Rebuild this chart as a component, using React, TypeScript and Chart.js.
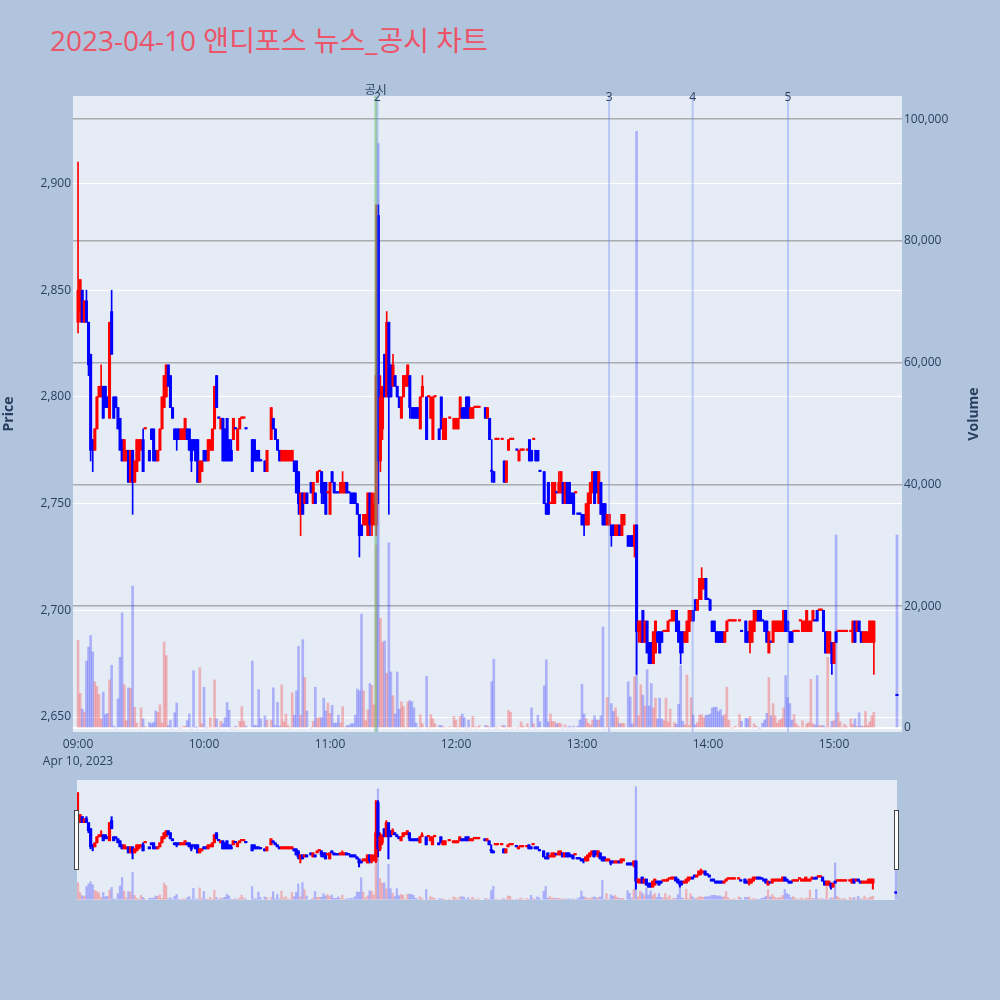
import React, { useEffect, useRef } from 'react';
import { Chart, registerables } from 'chart.js';

Chart.register(...registerables);

const FONT = '"Open Sans", "Noto Sans CJK KR", "DejaVu Sans", sans-serif';
const INK = '#2a3f5f';

// minutes after 09:00 (one candle per traded minute)
const minutes = [
  0, 1, 2, 3, 4, 5, 6, 7, 8, 9,
  10, 11, 12, 13, 14, 15, 16, 17, 18, 19,
  20, 21, 22, 23, 24, 25, 26, 27, 28, 29,
  30, 31, 32, 34, 35, 36, 37, 38, 39, 40,
  41, 42, 43, 44, 45, 46, 47, 48, 49, 50,
  51, 52, 53, 54, 55, 56, 57, 58, 59, 60,
  61, 62, 63, 64, 65, 66, 67, 68, 69, 70,
  71, 72, 73, 74, 75, 76, 77, 78, 79, 80,
  83, 84, 85, 86, 87, 89, 90, 92, 93, 94,
  95, 96, 97, 98, 99, 100, 101, 102, 103, 104,
  105, 106, 107, 108, 109, 111, 112, 113, 114, 115,
  116, 117, 118, 119, 120, 121, 122, 123, 124, 125,
  126, 127, 128, 129, 130, 131, 132, 133, 134, 135,
  136, 137, 138, 139, 140, 141, 142, 143, 144, 145,
  146, 147, 148, 149, 150, 151, 152, 153, 154, 155,
  156, 157, 158, 159, 160, 161, 162, 163, 164, 166,
  167, 168, 169, 170, 172, 173, 174, 175, 177, 179,
  180, 181, 182, 183, 184, 185, 186, 187, 188, 189,
  190, 191, 194, 195, 196, 197, 198, 199, 200, 202,
  203, 204, 205, 206, 207, 209, 210, 211, 212, 214,
  215, 216, 217, 218, 219, 220, 222, 223, 224, 225,
  226, 227, 228, 229, 230, 231, 232, 233, 234, 235,
  236, 237, 238, 239, 240, 241, 242, 243, 244, 245,
  246, 247, 248, 249, 250, 251, 252, 253, 254, 255,
  256, 257, 258, 259, 260, 262, 263, 264, 265, 266,
  267, 268, 269, 270, 271, 272, 273, 274, 275, 276,
  277, 278, 279, 280, 281, 282, 283, 284, 285, 286,
  287, 288, 289, 290, 291, 292, 293, 294, 295, 296,
  297, 298, 299, 300, 301, 302, 303, 304, 305, 306,
  307, 308, 309, 310, 311, 312, 313, 315, 316, 318,
  319, 320, 321, 322, 323, 324, 325, 326, 327, 328,
  329, 330, 331, 332, 333, 334, 335, 336, 337, 338,
  339, 340, 341, 342, 343, 344, 345, 346, 347, 348,
  349, 350, 351, 352, 353, 354, 355, 356, 357, 358,
  359, 360, 361, 362, 363, 364, 365, 366, 368, 369,
  370, 371, 372, 373, 374, 375, 376, 377, 378, 379,
  390,
];

const opens = [
  2835, 2840, 2850, 2835, 2845, 2835, 2820, 2780, 2775, 2785,
  2800, 2800, 2805, 2805, 2800, 2790, 2840, 2800, 2800, 2795,
  2790, 2780, 2770, 2770, 2775, 2760, 2775, 2760, 2765, 2770,
  2775, 2780, 2785, 2775, 2785, 2785, 2775, 2770, 2775, 2785,
  2795, 2800, 2815, 2810, 2795, 2785, 2785, 2785, 2780, 2780,
  2780, 2785, 2785, 2780, 2780, 2780, 2780, 2760, 2765, 2775,
  2775, 2770, 2775, 2775, 2785, 2810, 2790, 2785, 2790, 2785,
  2790, 2780, 2775, 2780, 2785, 2775, 2785, 2790, 2790, 2785,
  2780, 2780, 2775, 2775, 2770, 2770, 2765, 2780, 2790, 2785,
  2780, 2775, 2770, 2770, 2770, 2770, 2770, 2770, 2770, 2770,
  2765, 2745, 2755, 2750, 2755, 2760, 2750, 2755, 2760, 2765,
  2765, 2760, 2760, 2755, 2745, 2765, 2760, 2755, 2755, 2755,
  2755, 2755, 2760, 2755, 2755, 2755, 2755, 2750, 2745, 2740,
  2740, 2740, 2735, 2755, 2740, 2740, 2740, 2885, 2770, 2785,
  2820, 2800, 2835, 2815, 2805, 2810, 2805, 2800, 2790, 2800,
  2805, 2805, 2810, 2795, 2795, 2795, 2795, 2785, 2800, 2800,
  2800, 2790, 2780, 2800, 2785, 2800, 2780, 2780, 2790, 2785,
  2785, 2785, 2790, 2795, 2795, 2800, 2800, 2790, 2790, 2795,
  2795, 2795, 2795, 2790, 2790, 2765, 2765, 2780, 2780, 2780,
  2770, 2760, 2775, 2780, 2780, 2775, 2770, 2775, 2775, 2775,
  2780, 2775, 2780, 2775, 2775, 2765, 2765, 2750, 2760, 2750,
  2750, 2750, 2755, 2755, 2755, 2760, 2750, 2760, 2760, 2755,
  2755, 2755, 2745, 2745, 2745, 2745, 2740, 2740, 2750, 2755,
  2765, 2765, 2750, 2760, 2750, 2750, 2740, 2740, 2740, 2740,
  2735, 2735, 2740, 2735, 2740, 2735, 2735, 2735, 2730, 2740,
  2690, 2685, 2700, 2685, 2695, 2685, 2685, 2675, 2680, 2690,
  2690, 2690, 2690, 2690, 2690, 2695, 2695, 2695, 2700, 2695,
  2690, 2690, 2685, 2685, 2690, 2695, 2700, 2705, 2700, 2705,
  2710, 2710, 2715, 2705, 2705, 2695, 2695, 2690, 2690, 2690,
  2690, 2685, 2690, 2695, 2695, 2695, 2695, 2695, 2690, 2695,
  2690, 2685, 2685, 2690, 2695, 2700, 2700, 2695, 2695, 2695,
  2680, 2685, 2685, 2690, 2690, 2690, 2690, 2690, 2700, 2695,
  2690, 2690, 2690, 2690, 2690, 2695, 2690, 2690, 2690, 2690,
  2690, 2695, 2695, 2700, 2700, 2700, 2700, 2690, 2680, 2680,
  2685, 2675, 2690, 2690, 2690, 2690, 2690, 2690, 2690, 2685,
  2695, 2690, 2695, 2690, 2685, 2685, 2685, 2685, 2685, 2685,
  2660,
];

const highs = [
  2910, 2855, 2850, 2845, 2850, 2835, 2820, 2780, 2785, 2800,
  2805, 2815, 2805, 2805, 2800, 2835, 2850, 2800, 2800, 2795,
  2790, 2780, 2780, 2775, 2775, 2775, 2775, 2770, 2780, 2780,
  2780, 2785, 2785, 2775, 2785, 2785, 2775, 2775, 2785, 2800,
  2810, 2815, 2815, 2810, 2795, 2785, 2785, 2785, 2785, 2785,
  2790, 2785, 2785, 2780, 2780, 2780, 2780, 2770, 2770, 2775,
  2775, 2780, 2780, 2785, 2805, 2810, 2790, 2790, 2790, 2785,
  2790, 2780, 2780, 2790, 2785, 2785, 2790, 2790, 2790, 2785,
  2780, 2780, 2775, 2775, 2770, 2770, 2775, 2795, 2790, 2785,
  2780, 2775, 2775, 2775, 2775, 2775, 2775, 2775, 2770, 2770,
  2765, 2755, 2755, 2755, 2755, 2760, 2760, 2755, 2765, 2765,
  2765, 2760, 2760, 2755, 2760, 2765, 2760, 2755, 2755, 2760,
  2765, 2760, 2760, 2755, 2755, 2755, 2755, 2750, 2745, 2740,
  2745, 2745, 2755, 2755, 2755, 2755, 2890, 2890, 2810, 2805,
  2820, 2840, 2835, 2815, 2820, 2810, 2805, 2800, 2800, 2810,
  2810, 2815, 2810, 2795, 2795, 2795, 2795, 2800, 2810, 2800,
  2800, 2800, 2800, 2800, 2785, 2800, 2790, 2790, 2790, 2790,
  2790, 2790, 2800, 2795, 2795, 2800, 2800, 2795, 2795, 2795,
  2795, 2795, 2795, 2795, 2790, 2780, 2765, 2780, 2780, 2780,
  2770, 2770, 2780, 2780, 2780, 2775, 2775, 2775, 2775, 2775,
  2780, 2775, 2780, 2775, 2775, 2765, 2765, 2750, 2760, 2750,
  2760, 2760, 2755, 2765, 2765, 2760, 2760, 2760, 2760, 2755,
  2755, 2755, 2745, 2745, 2745, 2745, 2750, 2755, 2760, 2765,
  2765, 2765, 2765, 2760, 2750, 2750, 2745, 2745, 2740, 2740,
  2740, 2740, 2740, 2745, 2745, 2735, 2735, 2735, 2740, 2740,
  2695, 2695, 2700, 2695, 2695, 2685, 2685, 2690, 2695, 2690,
  2690, 2690, 2690, 2690, 2695, 2695, 2700, 2700, 2700, 2695,
  2690, 2690, 2690, 2695, 2700, 2700, 2700, 2705, 2705, 2715,
  2720, 2715, 2715, 2705, 2705, 2695, 2695, 2690, 2690, 2690,
  2690, 2690, 2695, 2695, 2695, 2695, 2695, 2695, 2690, 2695,
  2690, 2695, 2695, 2700, 2700, 2700, 2700, 2695, 2695, 2695,
  2690, 2685, 2695, 2695, 2695, 2695, 2695, 2700, 2700, 2695,
  2690, 2690, 2690, 2690, 2690, 2695, 2695, 2695, 2700, 2695,
  2695, 2700, 2695, 2700, 2700, 2700, 2700, 2690, 2690, 2690,
  2685, 2685, 2690, 2690, 2690, 2690, 2690, 2690, 2690, 2695,
  2695, 2695, 2695, 2690, 2690, 2690, 2690, 2695, 2695, 2695,
  2660,
];

const lows = [
  2830, 2835, 2835, 2835, 2835, 2810, 2770, 2765, 2775, 2785,
  2800, 2800, 2790, 2795, 2795, 2790, 2820, 2790, 2795, 2785,
  2775, 2770, 2770, 2770, 2760, 2760, 2745, 2760, 2765, 2770,
  2775, 2765, 2785, 2770, 2780, 2770, 2770, 2770, 2775, 2785,
  2795, 2800, 2805, 2795, 2790, 2780, 2775, 2780, 2780, 2780,
  2780, 2780, 2775, 2765, 2775, 2770, 2760, 2760, 2765, 2770,
  2770, 2770, 2775, 2775, 2785, 2795, 2790, 2785, 2770, 2770,
  2770, 2770, 2770, 2780, 2785, 2775, 2785, 2790, 2790, 2785,
  2765, 2770, 2770, 2770, 2770, 2765, 2765, 2780, 2785, 2780,
  2775, 2770, 2770, 2770, 2770, 2770, 2770, 2770, 2765, 2755,
  2745, 2735, 2745, 2750, 2750, 2755, 2750, 2750, 2760, 2765,
  2750, 2750, 2745, 2755, 2745, 2760, 2755, 2755, 2755, 2755,
  2755, 2755, 2755, 2755, 2750, 2750, 2750, 2745, 2725, 2735,
  2740, 2740, 2735, 2735, 2735, 2740, 2735, 2750, 2765, 2780,
  2800, 2800, 2745, 2800, 2805, 2805, 2800, 2795, 2790, 2800,
  2805, 2805, 2790, 2790, 2790, 2790, 2790, 2785, 2800, 2780,
  2800, 2790, 2780, 2800, 2780, 2785, 2780, 2780, 2790, 2785,
  2785, 2785, 2790, 2790, 2790, 2790, 2790, 2790, 2790, 2795,
  2795, 2795, 2790, 2790, 2780, 2760, 2760, 2780, 2780, 2780,
  2760, 2760, 2775, 2780, 2780, 2775, 2770, 2775, 2775, 2775,
  2770, 2770, 2780, 2770, 2770, 2765, 2750, 2745, 2745, 2750,
  2750, 2750, 2755, 2755, 2755, 2750, 2750, 2750, 2750, 2750,
  2745, 2755, 2745, 2745, 2740, 2735, 2740, 2740, 2750, 2755,
  2750, 2755, 2750, 2745, 2740, 2740, 2740, 2740, 2730, 2735,
  2735, 2735, 2735, 2735, 2740, 2730, 2730, 2730, 2725, 2670,
  2685, 2685, 2685, 2685, 2680, 2675, 2675, 2675, 2680, 2685,
  2680, 2685, 2690, 2690, 2690, 2695, 2695, 2695, 2690, 2685,
  2675, 2680, 2685, 2685, 2690, 2695, 2695, 2700, 2700, 2705,
  2705, 2710, 2705, 2705, 2700, 2690, 2690, 2685, 2685, 2685,
  2685, 2685, 2690, 2695, 2695, 2695, 2695, 2695, 2690, 2685,
  2685, 2680, 2685, 2690, 2695, 2695, 2695, 2695, 2690, 2685,
  2680, 2685, 2685, 2690, 2690, 2690, 2690, 2690, 2690, 2690,
  2685, 2685, 2690, 2690, 2690, 2695, 2690, 2690, 2690, 2690,
  2690, 2695, 2695, 2695, 2700, 2700, 2690, 2680, 2680, 2680,
  2670, 2675, 2685, 2690, 2690, 2690, 2690, 2690, 2690, 2685,
  2685, 2690, 2690, 2685, 2685, 2685, 2685, 2685, 2685, 2670,
  2660,
];

const closes = [
  2850, 2855, 2835, 2845, 2835, 2815, 2775, 2775, 2785, 2800,
  2805, 2805, 2790, 2795, 2795, 2835, 2820, 2790, 2795, 2785,
  2775, 2770, 2780, 2775, 2760, 2775, 2760, 2770, 2780, 2780,
  2780, 2765, 2785, 2770, 2780, 2770, 2770, 2775, 2785, 2800,
  2810, 2815, 2805, 2795, 2790, 2780, 2780, 2780, 2785, 2785,
  2790, 2780, 2775, 2770, 2775, 2770, 2760, 2770, 2770, 2770,
  2770, 2780, 2780, 2785, 2805, 2795, 2790, 2790, 2770, 2770,
  2770, 2770, 2770, 2790, 2785, 2785, 2790, 2790, 2790, 2785,
  2765, 2770, 2770, 2770, 2770, 2765, 2775, 2795, 2785, 2780,
  2775, 2770, 2775, 2775, 2775, 2775, 2775, 2775, 2765, 2755,
  2750, 2755, 2745, 2755, 2750, 2755, 2760, 2750, 2765, 2765,
  2755, 2750, 2745, 2755, 2760, 2760, 2755, 2755, 2755, 2760,
  2760, 2760, 2755, 2755, 2750, 2750, 2750, 2745, 2735, 2735,
  2745, 2745, 2755, 2740, 2755, 2750, 2810, 2770, 2800, 2805,
  2800, 2835, 2800, 2800, 2815, 2805, 2800, 2795, 2800, 2810,
  2810, 2815, 2795, 2790, 2790, 2790, 2790, 2800, 2805, 2780,
  2800, 2800, 2800, 2800, 2780, 2785, 2790, 2790, 2790, 2790,
  2790, 2790, 2800, 2790, 2790, 2790, 2790, 2795, 2795, 2795,
  2795, 2795, 2790, 2795, 2780, 2765, 2760, 2780, 2780, 2780,
  2760, 2770, 2780, 2780, 2780, 2775, 2775, 2775, 2775, 2775,
  2770, 2770, 2780, 2770, 2770, 2765, 2750, 2745, 2745, 2750,
  2760, 2760, 2755, 2760, 2765, 2750, 2760, 2750, 2750, 2750,
  2745, 2755, 2745, 2745, 2740, 2740, 2750, 2755, 2760, 2765,
  2750, 2755, 2765, 2745, 2740, 2740, 2745, 2745, 2735, 2735,
  2740, 2740, 2735, 2745, 2745, 2730, 2730, 2730, 2740, 2690,
  2695, 2695, 2685, 2695, 2680, 2675, 2675, 2690, 2695, 2685,
  2680, 2685, 2690, 2690, 2695, 2695, 2700, 2700, 2690, 2685,
  2680, 2685, 2690, 2695, 2700, 2700, 2695, 2700, 2705, 2715,
  2715, 2715, 2705, 2705, 2700, 2690, 2690, 2685, 2685, 2685,
  2685, 2690, 2695, 2695, 2695, 2695, 2695, 2695, 2690, 2685,
  2685, 2695, 2695, 2700, 2700, 2695, 2695, 2695, 2690, 2685,
  2690, 2685, 2695, 2695, 2695, 2695, 2695, 2700, 2690, 2690,
  2685, 2685, 2690, 2690, 2690, 2695, 2695, 2695, 2700, 2695,
  2695, 2700, 2695, 2695, 2700, 2700, 2690, 2680, 2690, 2690,
  2675, 2685, 2685, 2690, 2690, 2690, 2690, 2690, 2690, 2695,
  2685, 2695, 2690, 2685, 2690, 2690, 2690, 2695, 2695, 2695,
  2660,
];

const volumes = [
  14400, 5700, 3100, 2600, 11000, 13300, 15200, 12500, 7600, 6800,
  5500, 1500, 5900, 2200, 2400, 7900, 10300, 300, 0, 4800,
  11600, 18900, 7100, 1200, 6600, 6500, 23300, 3400, 800, 0,
  3300, 1500, 200, 900, 700, 900, 2800, 2600, 3800, 800,
  14100, 11900, 400, 1300, 0, 2500, 4100, 0, 0, 200,
  300, 1200, 2300, 0, 9400, 100, 0, 9900, 700, 6700,
  0, 0, 1700, 0, 7900, 1500, 0, 1100, 700, 1700,
  4200, 2900, 0, 0, 300, 0, 1100, 3500, 1100, 300,
  11000, 400, 400, 6300, 1500, 2000, 1300, 1300, 6600, 400,
  4200, 300, 7100, 1000, 2300, 400, 0, 5800, 2100, 6100,
  13400, 2100, 14500, 8300, 2800, 0, 1100, 6700, 1600, 1700,
  1700, 4900, 2800, 4100, 2400, 3700, 800, 800, 2100, 800,
  3500, 0, 400, 400, 700, 700, 2100, 6400, 6100, 18700,
  6100, 1200, 3000, 7300, 7000, 3800, 30000, 96000, 18000, 14100,
  14300, 9000, 30400, 9200, 5300, 2300, 9200, 3100, 4300, 3500,
  0, 4300, 4500, 4300, 3300, 800, 0, 2200, 700, 8500,
  0, 2200, 1500, 700, 400, 400, 200, 0, 200, 1900,
  1300, 0, 1900, 2300, 1700, 0, 1300, 0, 1900, 200,
  0, 400, 400, 400, 0, 7600, 11300, 0, 0, 400,
  400, 0, 2900, 2600, 0, 0, 0, 1000, 300, 700,
  0, 3300, 700, 0, 2100, 1000, 6900, 11200, 1000, 2300,
  1100, 1000, 700, 800, 700, 0, 500, 0, 300, 0,
  300, 0, 300, 1300, 7200, 2300, 1500, 800, 500, 1300,
  2000, 1300, 1300, 2000, 16600, 0, 5000, 0, 4000, 2700,
  3300, 1800, 700, 800, 700, 7600, 5100, 700, 8400, 98000,
  2000, 7100, 5400, 3600, 9600, 3600, 7300, 3300, 4900, 1500,
  4900, 1500, 1200, 4900, 1000, 3100, 0, 900, 600, 3900,
  10300, 1100, 500, 8700, 400, 5000, 2100, 500, 900, 2100,
  2200, 1700, 2100, 2100, 2300, 3300, 3400, 3400, 2700, 3000,
  2000, 2200, 6700, 1300, 0, 0, 300, 2200, 1100, 1600,
  1500, 1900, 0, 700, 300, 0, 0, 800, 1300, 2400,
  8300, 2000, 4000, 2000, 800, 1300, 1500, 3300, 8600, 5000,
  4000, 1300, 2200, 700, 300, 0, 1200, 0, 700, 900,
  8000, 700, 500, 8600, 400, 400, 400, 0, 11600, 0,
  1100, 1200, 31700, 2500, 1000, 0, 600, 300, 1500, 600,
  1500, 300, 2500, 300, 300, 2700, 400, 1000, 2000, 2600,
  31700,
];

const priceTicks = [2650, 2700, 2750, 2800, 2850, 2900];
const volumeTicks = [0, 20000, 40000, 60000, 80000, 100000];
const hourTicks = [0, 60, 120, 180, 240, 300, 360];
const hourLabels = ['09:00', '10:00', '11:00', '12:00', '13:00', '14:00', '15:00'];
const dateLabel = 'Apr 10, 2023';

const priceRange = [2643, 2941];
const volumeRange = [-660, 103800];
const timeRange = [-2.4, 392.4];
const sliderTimeRange = [-0.5, 390.5];

// vertical markers: disclosure + news items
const eventTimes = [141.8, 142.6, 252.9, 292.7, 338.1];
const eventLabels = ['공시', '2', '3', '4', '5'];

const titleText = '2023-04-10 앤디포스 뉴스_공시 차트';

// plotly-style direction: flat candles follow the previous close
const rising: boolean[] = [];
closes.forEach((c, i) => {
  const o = opens[i];
  if (c > o) rising.push(true);
  else if (c < o) rising.push(false);
  else if (i > 0 && c !== closes[i - 1]) rising.push(c > closes[i - 1]);
  else rising.push(i > 0 ? rising[i - 1] : true);
});

function buildDatasets(body: number, wick: number, vol: number): any[] {
  const colors = rising.map(r => (r ? '#ff0000' : '#0000ff'));
  const volColors = rising.map(r => (r ? 'rgba(255, 0, 0, 0.25)' : 'rgba(0, 0, 255, 0.25)'));
  return [
    {
      label: 'Volume',
      yAxisID: 'y1',
      data: minutes.map((m, i) => ({ x: m, y: volumes[i] })),
      backgroundColor: volColors,
      barThickness: vol,
      grouped: false,
      order: 3,
    },
    {
      label: 'wick',
      yAxisID: 'y',
      data: minutes.map((m, i) => ({ x: m, y: [lows[i], highs[i]] })),
      backgroundColor: colors,
      barThickness: wick,
      grouped: false,
      order: 2,
    },
    {
      label: 'body',
      yAxisID: 'y',
      data: minutes.map((m, i) => ({ x: m, y: [opens[i], closes[i]] })),
      backgroundColor: colors,
      barThickness: body,
      minBarLength: 1.5,
      grouped: false,
      order: 1,
    },
  ];
}

const plotBackground = {
  id: 'plotBackground',
  beforeDraw(chart: any) {
    const { ctx, chartArea } = chart;
    ctx.save();
    ctx.fillStyle = '#e5ecf6';
    ctx.fillRect(chartArea.left, chartArea.top, chartArea.width, chartArea.height);
    ctx.restore();
  },
};

const eventLines = {
  id: 'eventLines',
  afterDatasetsDraw(chart: any) {
    const { ctx, chartArea, scales } = chart;
    eventTimes.forEach((t, i) => {
      const px = scales.x.getPixelForValue(t);
      const notice = eventLabels[i] === '공시';
      ctx.save();
      ctx.strokeStyle = notice ? 'rgba(110, 190, 110, 0.55)' : 'rgba(100, 130, 240, 0.35)';
      ctx.lineWidth = notice ? 3 : 2;
      ctx.beginPath();
      ctx.moveTo(px, chartArea.top);
      ctx.lineTo(px, chartArea.bottom);
      ctx.stroke();
      ctx.fillStyle = INK;
      ctx.font = `12px ${FONT}`;
      ctx.textAlign = 'center';
      ctx.textBaseline = 'alphabetic';
      ctx.fillText(eventLabels[i], px, notice ? chartArea.top - 2 : chartArea.top + 5);
      ctx.restore();
    });
  },
};

const axisTitles = {
  id: 'axisTitles',
  afterDraw(chart: any) {
    const { ctx, chartArea } = chart;
    const cy = (chartArea.top + chartArea.bottom) / 2;
    ctx.save();
    ctx.fillStyle = INK;
    ctx.font = `bold 14px ${FONT}`;
    ctx.textAlign = 'center';
    ctx.textBaseline = 'middle';
    [['Price', 9], ['Volume', 974]].forEach(([text, x]) => {
      ctx.save();
      ctx.translate(x as number, cy);
      ctx.rotate(-Math.PI / 2);
      ctx.fillText(text as string, 0, 0);
      ctx.restore();
    });
    ctx.restore();
  },
};

export default function App() {
  const mainRef = useRef<HTMLCanvasElement>(null);
  const sliderRef = useRef<HTMLCanvasElement>(null);

  useEffect(() => {
    if (!mainRef.current || !sliderRef.current) return;

    const tickFont = { family: FONT, size: 12 };

    const main = new Chart(mainRef.current, {
      type: 'bar',
      data: { datasets: buildDatasets(2.4, 1, 2) },
      options: {
        responsive: false,
        animation: false,
        layout: { padding: { top: 96, left: 0, right: 0, bottom: 0 } },
        plugins: { legend: { display: false }, tooltip: { enabled: false } },
        scales: {
          x: {
            type: 'linear',
            min: timeRange[0],
            max: timeRange[1],
            offset: false,
            grid: { display: false },
            border: { display: false },
            ticks: {
              color: INK,
              font: { ...tickFont, lineHeight: 1.4 },
              padding: -4,
              maxRotation: 0,
              autoSkip: false,
              callback: (v: any) => {
                const i = hourTicks.indexOf(Number(v));
                if (i < 0) return '';
                return i === 0 ? [hourLabels[0], dateLabel] : hourLabels[i];
              },
            },
            afterBuildTicks: (axis: any) => {
              axis.ticks = hourTicks.map(value => ({ value }));
            },
            afterFit: (axis: any) => {
              axis.height = 48;
            },
          },
          y: {
            position: 'left',
            min: priceRange[0],
            max: priceRange[1],
            grid: { color: '#ffffff', lineWidth: 1, drawTicks: false },
            border: { display: false },
            ticks: {
              color: INK,
              font: tickFont,
              padding: 2,
              callback: (v: any) => Number(v).toLocaleString('en-US'),
            },
            afterBuildTicks: (axis: any) => {
              axis.ticks = priceTicks.map(value => ({ value }));
            },
            afterFit: (axis: any) => {
              axis.width = 73;
            },
          },
          y1: {
            position: 'right',
            min: volumeRange[0],
            max: volumeRange[1],
            grid: {
              color: (ctx: any) => (ctx.tick && ctx.tick.value === 0 ? '#ffffff' : 'rgba(128, 128, 128, 0.6)'),
              lineWidth: (ctx: any) => (ctx.tick && ctx.tick.value === 0 ? 2 : 1.5),
              drawTicks: false,
            },
            border: { display: false },
            ticks: {
              color: INK,
              font: tickFont,
              padding: 2,
              callback: (v: any) => Number(v).toLocaleString('en-US'),
            },
            afterBuildTicks: (axis: any) => {
              axis.ticks = volumeTicks.map(value => ({ value }));
            },
            afterFit: (axis: any) => {
              axis.width = 98;
            },
          },
        },
      },
      plugins: [plotBackground, eventLines, axisTitles],
    } as any);

    // range slider preview underneath
    const slider = new Chart(sliderRef.current, {
      type: 'bar',
      data: { datasets: buildDatasets(2.6, 1.4, 1.6) },
      options: {
        responsive: false,
        animation: false,
        layout: { padding: { top: 10, left: 77, right: 103, bottom: 40 } },
        plugins: { legend: { display: false }, tooltip: { enabled: false } },
        scales: {
          x: { type: 'linear', display: false, min: sliderTimeRange[0], max: sliderTimeRange[1], offset: false },
          y: { display: false, min: priceRange[0], max: priceRange[1] },
          y1: { display: false, min: volumeRange[0], max: volumeRange[1] },
        },
      },
      plugins: [plotBackground],
    } as any);

    return () => {
      main.destroy();
      slider.destroy();
    };
  }, []);

  const handle = (left: number): React.CSSProperties => ({
    position: 'absolute',
    left,
    top: 810,
    width: 3,
    height: 58,
    background: '#ffffff',
    border: '1px solid #444444',
  });

  return (
    <div
      style={{
        position: 'absolute',
        left: 0,
        top: 0,
        width: 1000,
        height: 1000,
        background: '#b0c4de',
        overflow: 'hidden',
        fontFamily: FONT,
      }}
    >
      <div
        style={{
          position: 'absolute',
          left: 50,
          top: 20,
          fontSize: 28,
          lineHeight: '40px',
          color: 'rgb(236, 84, 104)',
          whiteSpace: 'nowrap',
        }}
      >
        {titleText}
      </div>
      <canvas ref={sliderRef} width={1000} height={170} style={{ position: 'absolute', left: 0, top: 770 }} />
      <canvas ref={mainRef} width={1000} height={780} style={{ position: 'absolute', left: 0, top: 0 }} />
      <div style={handle(74)} />
      <div style={handle(894)} />
    </div>
  );
}
